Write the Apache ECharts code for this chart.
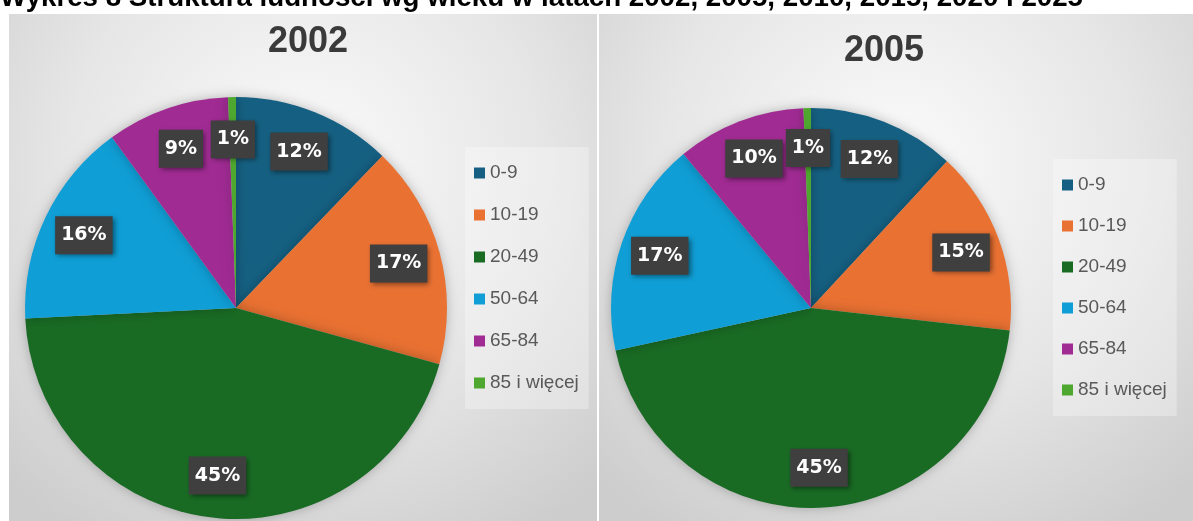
<!DOCTYPE html>
<html><head><meta charset="utf-8">
<script src="https://cdn.jsdelivr.net/npm/echarts@6/dist/echarts.min.js"></script>
<style>html,body{margin:0;padding:0;background:#fff}#c{width:1193px;height:521px}</style>
</head><body><div id="c"></div>
<script>
const mainTitle = 'Wykres 8 Struktura ludności wg wieku w latach 2002, 2005, 2010, 2015, 2020 i 2025';
const categories = ['0-9', '10-19', '20-49', '50-64', '65-84', '85 i więcej'];
const years = ['2002', '2005'];
const values2002 = [12.2, 17.1, 44.9, 15.8, 9.4, 0.6];
const values2005 = [11.9, 14.9, 44.8, 17.4, 10.4, 0.6];
const colors = ['#156082', '#E97132', '#196B24', '#0F9ED5', '#A02B93', '#4EA72E'];

const panels = [
  { year: years[0], values: values2002, center: [236, 308], r: 211, rect: [9, 14, 588, 507], titleXY: [308, 42], legend: [465, 147], gap: 22 },
  { year: years[1], values: values2005, center: [811, 308], r: 200, rect: [599, 14, 594, 507], titleXY: [884, 51], legend: [1053, 159], gap: 21 }
];

const chart = echarts.init(document.getElementById('c'));
const series = [];
const legends = [];
const graphics = [];

panels.forEach((p, i) => {
  const data = categories.map((c, k) => ({ name: c, value: p.values[k] }));
  graphics.push({
    type: 'rect', z: -10, silent: true,
    shape: { x: p.rect[0], y: p.rect[1], width: p.rect[2], height: p.rect[3] },
    style: { fill: new echarts.graphic.RadialGradient(0.5, 0.3, 0.85, [
      { offset: 0, color: '#fbfbfb' }, { offset: 0.55, color: '#e6e6e6' }, { offset: 1, color: '#cdcdcd' }]) }
  });
  graphics.push({
    type: 'text', z: 10, x: p.titleXY[0], y: p.titleXY[1],
    style: { text: p.year, fontSize: 36, fontWeight: 'bold', fontFamily: 'Liberation Sans', fill: '#3a3a3a', align: 'center', verticalAlign: 'middle' }
  });
  series.push({
    type: 'pie', name: p.year, center: p.center, radius: [0, p.r], startAngle: 90, clockwise: true,
    data: data, color: colors, label: { show: false }, labelLine: { show: false },
    emphasis: { disabled: true }, silent: true, animation: false,
    itemStyle: { shadowBlur: 12, shadowColor: 'rgba(0,0,0,0.25)' }
  });
  series.push({
    type: 'pie', name: p.year + ' labels', center: p.center, radius: [p.r * 0.57, p.r], startAngle: 90, clockwise: true,
    data: data, silent: true, animation: false, z: 5,
    itemStyle: { color: 'rgba(0,0,0,0)' }, labelLine: { show: false }, emphasis: { disabled: true },
    label: {
      show: true, position: 'inside',
      formatter: (q) => Math.round(q.percent) + '%',
      color: '#fff', fontWeight: 'bold', fontSize: 19, fontFamily: 'DejaVu Sans',
      backgroundColor: '#3f3f3f', padding: [10, 6, 9, 6],
      shadowBlur: 5, shadowColor: 'rgba(0,0,0,0.45)', shadowOffsetX: 2, shadowOffsetY: 2
    }
  });
  legends.push({
    show: true, orient: 'vertical', left: p.legend[0], top: p.legend[1],
    data: categories, icon: 'rect', itemWidth: 11, itemHeight: 11, itemGap: p.gap,
    selectedMode: false,
    textStyle: { color: '#595959', fontSize: 19, fontFamily: 'Liberation Sans', lineHeight: 20 },
    backgroundColor: 'rgba(255,255,255,0.3)', padding: [16, 10, 16, 9]
  });
});

graphics.push({
  type: 'text', z: 10, x: 0, y: -16,
  style: { text: mainTitle, fontSize: 27.7, fontWeight: 'bold', fontFamily: 'Liberation Sans', fill: '#000', align: 'left', verticalAlign: 'top' }
});

chart.setOption({
  animation: false,
  backgroundColor: '#fff',
  color: colors,
  graphic: graphics,
  legend: legends,
  series: series
});
</script></body></html>
